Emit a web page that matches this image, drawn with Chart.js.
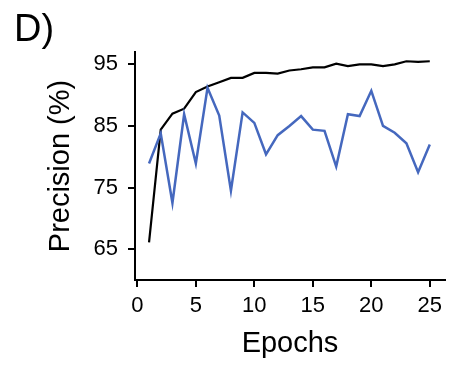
<!DOCTYPE html>
<html>
<head>
<meta charset="utf-8">
<script src="https://cdn.jsdelivr.net/npm/chart.js@4"></script>
<style>
  body { margin: 0; background: #fff; }
  #wrap { position: relative; width: 463px; height: 365px; }
  #panel { position: absolute; left: 14px; top: 7px; font: 38px "Liberation Sans", Arial, sans-serif; color: #000; }
</style>
</head>
<body>
<div id="wrap">
  <canvas id="chart" width="463" height="365"></canvas>
  <div id="panel">D)</div>
</div>
<script>
// precision per epoch, training (black) and validation (blue)
const epochs = [1, 2, 3, 4, 5, 6, 7, 8, 9, 10, 11, 12, 13, 14, 15, 16, 17, 18, 19, 20, 21, 22, 23, 24, 25];
const trainPrecision = [66.1, 84.4, 87.0, 87.8, 90.5, 91.4, 92.1, 92.8, 92.8, 93.6, 93.6, 93.5, 94.0, 94.2, 94.5, 94.5, 95.1, 94.7, 95.0, 95.0, 94.7, 95.0, 95.5, 95.4, 95.5];
const testPrecision = [78.9, 83.8, 72.5, 86.9, 78.9, 91.2, 86.7, 74.5, 87.2, 85.5, 80.4, 83.5, 85.0, 86.6, 84.4, 84.2, 78.4, 86.9, 86.6, 90.7, 85.0, 83.9, 82.2, 77.5, 82.0];
const xTicks = [0, 5, 10, 15, 20, 25];
const yTicks = [65, 75, 85, 95];

const toPoints = (ys) => ys.map((y, i) => ({ x: epochs[i], y }));
const font = '"Liberation Sans", Arial, sans-serif';

new Chart(document.getElementById('chart'), {
    type: 'line',
    data: {
        datasets: [
            { data: toPoints(testPrecision), borderColor: '#4568be', borderWidth: 2.5, pointRadius: 0, tension: 0 },
            { data: toPoints(trainPrecision), borderColor: '#000', borderWidth: 2.2, pointRadius: 0, tension: 0 }
        ]
    },
    options: {
        responsive: false,
        animation: false,
        layout: { padding: { left: 0, top: 52, right: 18, bottom: 0 } },
        plugins: { legend: { display: false }, tooltip: { enabled: false } },
        scales: {
            x: {
                type: 'linear',
                min: -0.2,
                max: 26.3,
                afterBuildTicks: (s) => { s.ticks = xTicks.map(v => ({ value: v })); },
                afterFit: (s) => { s.height = 85; },
                border: { color: '#000', width: 2 },
                grid: { drawOnChartArea: false, color: '#000', lineWidth: 2, tickLength: 7 },
                ticks: { color: '#000', font: { family: font, size: 22 }, padding: 6, maxRotation: 0 },
                title: { display: true, text: 'Epochs', color: '#000', font: { family: font, size: 29 }, padding: { top: 12 } }
            },
            y: {
                min: 60,
                max: 97,
                afterBuildTicks: (s) => { s.ticks = yTicks.map(v => ({ value: v })); },
                afterFit: (s) => { s.width = 135; },
                border: { color: '#000', width: 2 },
                grid: { drawOnChartArea: false, color: '#000', lineWidth: 2, tickLength: 7 },
                ticks: { color: '#000', font: { family: font, size: 22 }, padding: 10 },
                title: { display: true, text: 'Precision (%)', color: '#000', font: { family: font, size: 29 }, padding: { top: 44 } }
            }
        }
    }
});
</script>
</body>
</html>
